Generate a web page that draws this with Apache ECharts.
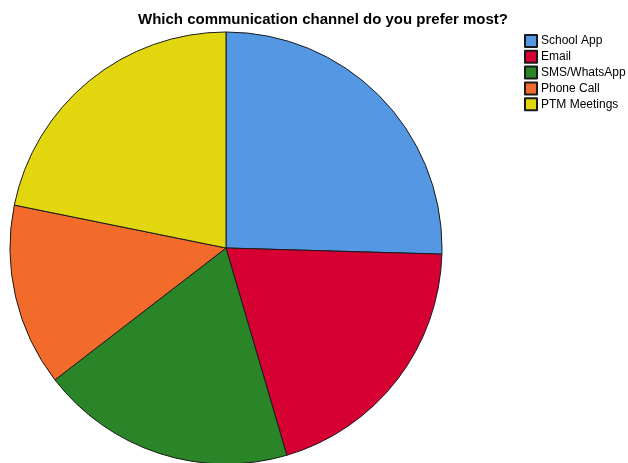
<!DOCTYPE html>
<html>
<head>
<meta charset="utf-8">
<script src="https://cdn.jsdelivr.net/npm/echarts@6/dist/echarts.min.js"></script>
<style>
html,body{margin:0;padding:0;background:#fff;}
#main{width:628px;height:463px;}
</style>
</head>
<body>
<div id="main"></div>
<script>
// 各沟通渠道的人数
var channels = ['School App', 'Email', 'SMS/WhatsApp', 'Phone Call', 'PTM Meetings'];
var counts = [28, 22, 21, 15, 24];
var colors = ['#5497e3', '#d70033', '#298528', '#f26b2b', '#e2d70f'];

var pieData = [];
for (var i = 0; i < channels.length; i++) {
	pieData.push({
		name: channels[i],
		value: counts[i],
		itemStyle: {color: colors[i]}
	});
}

var myChart = echarts.init(document.getElementById('main'));
var option = {
	animation: false,
	title: {
		text: 'Which communication channel do you prefer most?',
		left: 318,
		textAlign: 'center',
		top: 7,
		textStyle: {
			fontFamily: 'Liberation Sans, Arial, sans-serif',
			fontSize: 15,
			fontWeight: 'bold',
			color: '#000'
		}
	},
	legend: {
		orient: 'vertical',
		left: 524,
		top: 34,
		icon: 'rect',
		itemWidth: 12,
		itemHeight: 12,
		itemGap: 1.8,
		padding: 0,
		data: channels,
		textStyle: {
			fontFamily: 'Liberation Sans, Arial, sans-serif',
			fontSize: 12,
			color: '#000',
			padding: [0, 0, 0, -1]
		}
	},
	series: [{
		type: 'pie',
		center: [226, 248],
		radius: 216,
		startAngle: 90,
		clockwise: true,
		label: {show: false},
		labelLine: {show: false},
		emphasis: {disabled: true},
		itemStyle: {
			borderColor: '#1a1a1a',
			borderWidth: 1
		},
		data: pieData
	}]
};
myChart.setOption(option, true);
</script>
</body>
</html>
